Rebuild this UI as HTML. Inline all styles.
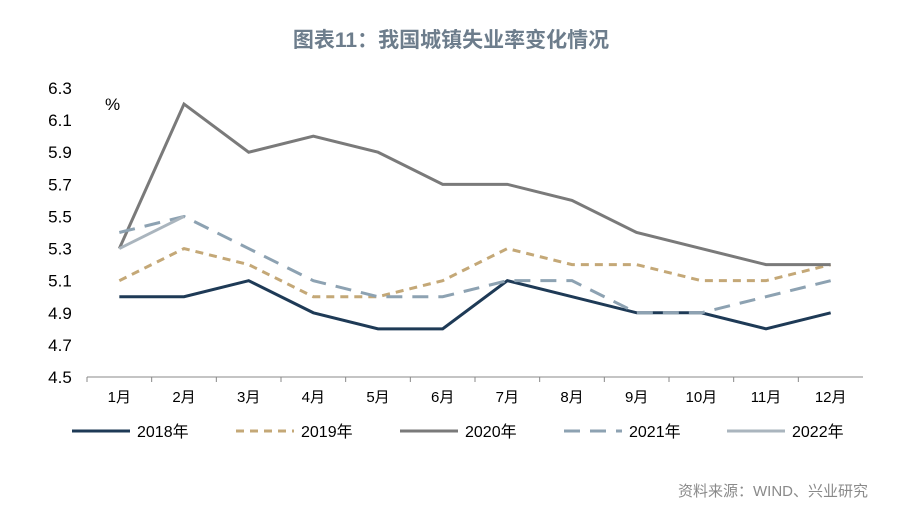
<!DOCTYPE html>
<html><head><meta charset="utf-8"><style>
body{margin:0;background:#fff;width:902px;height:513px;overflow:hidden;font-family:"Liberation Sans","Noto Sans CJK SC",sans-serif}
</style></head><body>
<svg width="902" height="513" id="chart">
<text x="451" y="47" text-anchor="middle" font-size="21" font-weight="bold" fill="#6d7d8c" font-family="Liberation Sans, Noto Sans CJK SC, sans-serif">图表11：我国城镇失业率变化情况</text>
<text x="105" y="110" font-size="17" fill="#000">%</text>
<g id="axes"></g><g id="series"></g><g id="legend"></g>
<text x="868" y="496" text-anchor="end" font-size="15" fill="#8a8a8a" font-family="Liberation Sans, Noto Sans CJK SC, sans-serif">资料来源：WIND、兴业研究</text>
</svg>
<script>
const months=["1月","2月","3月","4月","5月","6月","7月","8月","9月","10月","11月","12月"];
const yTicks=[4.5,4.7,4.9,5.1,5.3,5.5,5.7,5.9,6.1,6.3];
const s2018=[5.0,5.0,5.1,4.9,4.8,4.8,5.1,5.0,4.9,4.9,4.8,4.9];
const s2019=[5.1,5.3,5.2,5.0,5.0,5.1,5.3,5.2,5.2,5.1,5.1,5.2];
const s2020=[5.3,6.2,5.9,6.0,5.9,5.7,5.7,5.6,5.4,5.3,5.2,5.2];
const s2021=[5.4,5.5,5.3,5.1,5.0,5.0,5.1,5.1,4.9,4.9,5.0,5.1];
const s2022=[5.3,5.5];
const seriesNames=["2018年","2019年","2020年","2021年","2022年"];
const NS="http://www.w3.org/2000/svg";
const x0=87,x1=863,yBot=377,yTop=88,vmin=4.5,vmax=6.3;
const bw=(x1-x0)/months.length;
function xs(i){return x0+bw*(i+0.5);}
function ys(v){return yBot-(v-vmin)/(vmax-vmin)*(yBot-yTop);}
function mk(t,a,p){const e=document.createElementNS(NS,t);for(const k in a)e.setAttribute(k,a[k]);p.appendChild(e);return e;}
const axes=document.getElementById('axes');
const ax=mk('line',{x1:x0,x2:x1,y1:yBot,y2:yBot,stroke:'#888','stroke-width':1},axes);


yTicks.forEach(v=>{const t=mk('text',{x:60,y:ys(v)+6,'text-anchor':'middle','font-size':17,fill:'#000'},axes);t.textContent=v.toFixed(1);

});
months.forEach((m,i)=>{const t=mk('text',{x:xs(i),y:402,'text-anchor':'middle','font-size':15,fill:'#000','font-family':'Liberation Sans, Noto Sans CJK SC, sans-serif'},axes);t.textContent=m;


const tk=mk('line',{x1:x0+bw*i,x2:x0+bw*i,y1:yBot,y2:yBot+5,stroke:'#888'},axes);

});
const styles=[{c:'#1e3a56',d:''},{c:'#c4a877',d:'8,6'},{c:'#7a7a7a',d:''},{c:'#8da2b2',d:'16,10'},{c:'#aab5be',d:''}];
const data=[s2018,s2019,s2020,s2021,s2022];
const sg=document.getElementById('series');
data.forEach((d,k)=>{const p=mk('polyline',{points:d.map((v,i)=>xs(i)+','+ys(v)).join(' '),fill:'none',stroke:styles[k].c,'stroke-width':3,'stroke-dasharray':styles[k].d},sg);

});
const lg=document.getElementById('legend');
const lx=[72,236,400,564,727];
seriesNames.forEach((n,k)=>{const g=mk('g',{},lg);


mk('line',{x1:lx[k],x2:lx[k]+58,y1:431,y2:431,stroke:styles[k].c,'stroke-width':3,'stroke-dasharray':styles[k].d},g);
const t=mk('text',{x:lx[k]+65,y:437,'font-size':16,fill:'#000','font-family':'Liberation Sans, Noto Sans CJK SC, sans-serif'},g);t.textContent=n;});
</script>
</body></html>
